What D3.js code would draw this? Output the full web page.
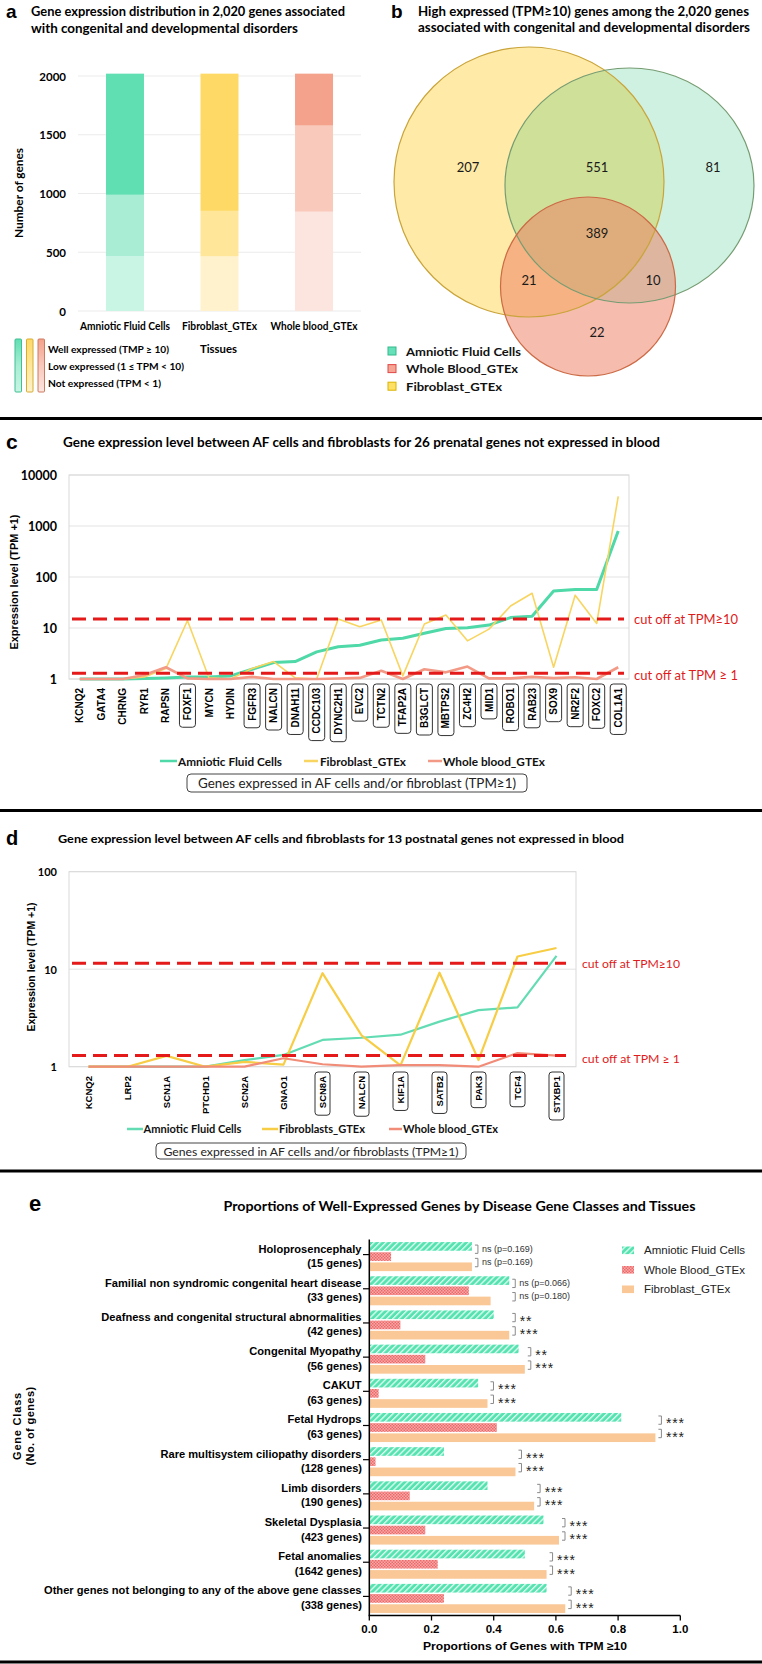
<!DOCTYPE html>
<html><head><meta charset="utf-8">
<script src="https://cdn.jsdelivr.net/npm/d3@7"></script>
<style>html,body{margin:0;padding:0;background:#fff;} svg{display:block;}</style>
</head><body>
<svg id="fig" width="762" height="1664" xmlns="http://www.w3.org/2000/svg"></svg>
<script>
// ================= DATA =================
// Panel a
const titleA = ["Gene expression distribution in 2,020 genes associated", "with congenital and developmental disorders"];
const tissuesA = ["Amniotic Fluid Cells", "Fibroblast_GTEx", "Whole blood_GTEx"];
const notExpressed = [465, 465, 845];
const lowExpressed = [524, 387, 733];
const wellExpressed = [1031, 1168, 442];
const yTicksA = [0, 500, 1000, 1500, 2000];
const legendA = ["Well expressed (TMP \u2265 10)", "Low expressed (1 \u2264 TPM < 10)", "Not expressed (TPM < 1)"];

// Panel b
const titleB = ["High expressed (TPM\u226510)  genes among the 2,020 genes", "associated with congenital and developmental disorders"];
const vennSets = ["Amniotic Fluid Cells", "Whole Blood_GTEx", "Fibroblast_GTEx"];
const vennRegions = ["Fib only", "AF & Fib", "AF only", "AF & Fib & WB", "Fib & WB", "AF & WB", "WB only"];
const vennCounts = [207, 551, 81, 389, 21, 10, 22];

// Panel c
const titleC = "Gene expression level between AF cells and fibroblasts for 26 prenatal genes not expressed in blood";
const genesC = ["KCNQ2","GATA4","CHRNG","RYR1","RAPSN","FOXF1","MYCN","HYDIN","FGFR3","NALCN","DNAH11","CCDC103","DYNC2H1","EVC2","TCTN2","TFAP2A","B3GLCT","MBTPS2","ZC4H2","MID1","ROBO1","RAB23","SOX9","NR2F2","FOXC2","COL1A1"];
const afC  = [1.0,1.0,1.0,1.02,1.05,1.1,1.1,1.15,1.55,2.1,2.2,3.4,4.3,4.6,5.8,6.3,7.9,9.8,10.1,11.4,16,17,53,57,57,800];
const fibC = [1.0,1.0,1.0,1.1,1.6,14,1.05,1.0,1.6,2.2,1.05,1.0,15,10.6,14.3,1.15,12,18,5.6,9.5,27,48,1.7,44,12.3,3800];
const wbC  = [1.0,1.0,1.0,1.2,1.7,1.03,1.0,1.0,1.1,1.0,1.0,1.0,1.02,1.05,1.45,1.0,1.55,1.35,1.75,1.03,1.03,1.1,1.04,1.08,1.0,1.7];
const boxedC = ["FOXF1","FGFR3","NALCN","DNAH11","CCDC103","DYNC2H1","EVC2","TCTN2","TFAP2A","B3GLCT","MBTPS2","ZC4H2","MID1","ROBO1","RAB23","SOX9","NR2F2","FOXC2","COL1A1"];
const yTicksC = [1, 10, 100, 1000, 10000];
const cutoffsC = [15, 1.29];
const cutoffLabels = ["cut off at TPM\u226510", "cut off at TPM \u2265 1"];
const seriesC = ["Amniotic Fluid Cells", "Fibroblast_GTEx", "Whole blood_GTEx"];
const boxTextC = "Genes expressed in AF cells and/or fibroblast (TPM\u22651)";

// Panel d
const titleD = "Gene expression level between AF cells and fibroblasts for 13 postnatal genes not expressed in blood";
const genesD = ["KCNQ2","LRP2","SCN1A","PTCHD1","SCN2A","GNAO1","SCN8A","NALCN","KIF1A","SATB2","PAK3","TCF4","STXBP1"];
const afD  = [1.0,1.0,1.0,1.0,1.17,1.32,1.88,1.98,2.13,2.9,3.8,4.06,13.7];
const fibD = [1.0,1.0,1.29,1.0,1.12,1.05,9.1,2.1,1.03,9.2,1.17,13.5,16.5];
const wbD  = [1.0,1.0,1.0,1.0,1.0,1.22,1.06,1.0,1.04,1.04,1.0,1.38,1.3];
const boxedD = ["SCN8A","NALCN","KIF1A","SATB2","PAK3","TCF4","STXBP1"];
const yTicksD = [1, 10, 100];
const cutoffsD = [11.5, 1.3];
const seriesD = ["Amniotic Fluid Cells", "Fibroblasts_GTEx", "Whole blood_GTEx"];
const boxTextD = "Genes expressed in AF cells and/or fibroblasts (TPM\u22651)";

// Panel e
const titleE = "Proportions of Well-Expressed Genes by Disease Gene Classes and Tissues";
const classesE = ["Holoprosencephaly","Familial non syndromic congenital heart disease","Deafness and congenital structural abnormalities","Congenital Myopathy","CAKUT","Fetal Hydrops","Rare multisystem ciliopathy disorders","Limb disorders","Skeletal Dysplasia","Fetal anomalies","Other genes not belonging to any of the above gene classes"];
const geneCountsE = [15,33,42,56,63,63,128,190,423,1642,338];
const afE  = [0.33,0.45,0.40,0.48,0.35,0.81,0.24,0.38,0.56,0.50,0.57];
const wbE  = [0.07,0.32,0.10,0.18,0.03,0.41,0.02,0.13,0.18,0.22,0.24];
const fibE = [0.33,0.39,0.45,0.50,0.38,0.92,0.47,0.53,0.61,0.57,0.63];
const sigAfWb  = ["ns (p=0.169)","ns (p=0.066)","**","**","***","***","***","***","***","***","***"];
const sigWbFib = ["ns (p=0.169)","ns (p=0.180)","***","***","***","***","***","***","***","***","***"];
const xTicksE = [0, 0.2, 0.4, 0.6, 0.8, 1.0];
const seriesE = ["Amniotic Fluid Cells", "Whole Blood_GTEx", "Fibroblast_GTEx"];

// ================= DRAW =================
const svg = d3.select("#fig");
const CAL = "Lato, 'Open Sans', sans-serif";
const ARI = "'Liberation Sans', Arial, sans-serif";
const defs = svg.append("defs");
svg.append("rect").attr("width", 762).attr("height", 1664).attr("fill", "#fff");

function txt(g, x, y, s, o = {}) {
  const t = g.append("text").attr("x", x).attr("y", y).text(s)
    .attr("font-family", o.ff || CAL).attr("font-size", o.fs || 12)
    .attr("font-weight", o.fw || 400).attr("fill", o.fill || "#000")
    .attr("text-anchor", o.anchor || "start").attr("dominant-baseline", o.db || "central");
  if (o.w) t.attr("textLength", o.w).attr("lengthAdjust", "spacingAndGlyphs");
  if (o.ls) t.attr("letter-spacing", o.ls);
  if (o.rot) t.attr("transform", `rotate(${o.rot},${x},${y})`);
  return t;
}

// separators
svg.selectAll("line.sep").data([418.5, 810.5, 1171, 1662]).join("line").attr("class", "sep")
  .attr("x1", 0).attr("x2", 762).attr("y1", d => d).attr("y2", d => d)
  .attr("stroke", "#000").attr("stroke-width", 3);

// ---------- Panel a ----------
const gA = svg.append("g");
txt(gA, 6, 17.5, "a", {ff: ARI, fs: 19, fw: 700, db: "alphabetic"});
txt(gA, 31, 10.5, titleA[0], {fs: 13.5, fw: 700, w: 314});
txt(gA, 31, 28, titleA[1], {fs: 13.5, fw: 700, w: 267});
const yA = d3.scaleLinear().domain([0, 2000]).range([311, 76]);
const xA = d3.scaleBand().domain(tissuesA).range([78, 361]).paddingInner(0.598).paddingOuter(0.296);
gA.selectAll("line.grid").data(yTicksA).join("line").attr("x1", 78).attr("x2", 361)
  .attr("y1", d => yA(d)).attr("y2", d => yA(d)).attr("stroke", "#EBEBEB");
yTicksA.forEach(t => txt(gA, 66, yA(t), String(t), {fs: 11.5, fw: 700, anchor: "end"}));
const paletteA = [["#C8F5E4", "#A9EDD5", "#60DFB3"], ["#FFF2CC", "#FFE699", "#FFD966"], ["#FCE5DF", "#F9C9BC", "#F4A28B"]];
const strokeLegA = ["#3FBF92", "#D6AC33", "#CC7A5E"];
const stackA = d3.stack().keys(["not", "low", "well"])(tissuesA.map((t, i) => ({t, not: notExpressed[i], low: lowExpressed[i], well: wellExpressed[i]})));
stackA.forEach((layer, j) => {
  gA.selectAll(null).data(layer).join("rect")
    .attr("x", d => xA(d.data.t)).attr("width", xA.bandwidth())
    .attr("y", d => yA(d[1])).attr("height", d => yA(d[0]) - yA(d[1]))
    .attr("fill", (d, i) => paletteA[i][j]);
});
const labWA = [90, 75, 87];
tissuesA.forEach((t, i) => txt(gA, xA(t) + xA.bandwidth() / 2, 326, t, {fs: 10.5, fw: 700, anchor: "middle", w: labWA[i]}));
txt(gA, 19, 193, "Number of genes", {fs: 10.5, fw: 700, anchor: "middle", rot: -90, w: 90});
txt(gA, 218.5, 348, "Tissues", {fs: 11.5, fw: 700, anchor: "middle", w: 37});
// legend gradient bars
[15, 26.5, 38].forEach((x, i) => {
  const gr = defs.append("linearGradient").attr("id", "gA" + i).attr("x1", 0).attr("y1", 0).attr("x2", 0).attr("y2", 1);
  gr.append("stop").attr("offset", "0%").attr("stop-color", paletteA[i][2]);
  gr.append("stop").attr("offset", "50%").attr("stop-color", paletteA[i][1]);
  gr.append("stop").attr("offset", "100%").attr("stop-color", paletteA[i][0]);
  gA.append("rect").attr("x", x).attr("y", 339).attr("width", 6.5).attr("height", 53).attr("rx", 1)
    .attr("fill", `url(#gA${i})`).attr("stroke", strokeLegA[i]).attr("stroke-width", 1);
});
const legWA = [121, 136, 113];
legendA.forEach((s, i) => txt(gA, 48, 349 + i * 17, s, {fs: 9.5, fw: 700, w: legWA[i]}));

// ---------- Panel b ----------
const gB = svg.append("g");
txt(gB, 391, 17.5, "b", {ff: ARI, fs: 19, fw: 700, db: "alphabetic"});
txt(gB, 418, 10.5, titleB[0], {fs: 13.5, fw: 700, w: 331});
txt(gB, 418, 27, titleB[1], {fs: 13.5, fw: 700, w: 332});
const vennShapes = [
  {set: "Fibroblast_GTEx", cx: 529, cy: 182, rx: 135, ry: 135, fill: "#FFD54F", op: 0.5, stroke: "#C9A43A"},
  {set: "Amniotic Fluid Cells", cx: 629.5, cy: 185.5, rx: 124.5, ry: 117.5, fill: "#00B75E", op: 0.19, stroke: "#769C72"},
  {set: "Whole Blood_GTEx", cx: 588, cy: 286.5, rx: 87.5, ry: 89.5, fill: "#EE7A5E", op: 0.5, stroke: "#CC6A45"}
];
gB.selectAll("ellipse.f").data(vennShapes).join("ellipse").attr("class", "f")
  .attr("cx", d => d.cx).attr("cy", d => d.cy).attr("rx", d => d.rx).attr("ry", d => d.ry)
  .attr("fill", d => d.fill).attr("fill-opacity", d => d.op);
gB.selectAll("ellipse.s").data(vennShapes).join("ellipse").attr("class", "s")
  .attr("cx", d => d.cx).attr("cy", d => d.cy).attr("rx", d => d.rx).attr("ry", d => d.ry)
  .attr("fill", "none").attr("stroke", d => d.stroke).attr("stroke-width", 1.2);
const vennPos = [[468, 167], [597, 167], [713, 167], [597, 233], [529, 280], [653, 280], [597, 332]];
vennCounts.forEach((c, i) => txt(gB, vennPos[i][0], vennPos[i][1], String(c), {fs: 13, anchor: "middle", fill: "#1a1a1a"}));
const vennLegFill = ["#66E0B8", "#F4A593", "#FFE066"];
const vennLegStroke = ["#35B98C", "#E04848", "#D9B400"];
const vennLegW = [115, 112, 96];
vennSets.forEach((s, i) => {
  const y = 351 + i * 17.6;
  gB.append("rect").attr("x", 388).attr("y", y - 4).attr("width", 8).attr("height", 8)
    .attr("fill", vennLegFill[i]).attr("stroke", vennLegStroke[i]).attr("stroke-width", 1);
  txt(gB, 406, y, s, {fs: 12, fw: 700, w: vennLegW[i], fill: "#111"});
});

// ---------- line-panel helper ----------
function linePanel(cfg) {
  const g = svg.append("g");
  txt(g, cfg.letterX, cfg.letterY, cfg.letter, {ff: ARI, fs: cfg.letterFs, fw: 700});
  txt(g, cfg.titleX, cfg.titleY, cfg.title, {fs: cfg.titleFs, fw: 700, w: cfg.titleW});
  const x = d3.scaleBand().domain(cfg.genes).range([cfg.x0, cfg.x1]);
  const y = d3.scaleLog().domain(cfg.domain).range([cfg.yb, cfg.yt]);
  const cx = gname => x(gname) + x.bandwidth() / 2;
  g.selectAll("line.grid").data(cfg.ticks).join("line").attr("x1", cfg.x0).attr("x2", cfg.x1)
    .attr("y1", d => y(d)).attr("y2", d => y(d)).attr("stroke", "#E3E3E3");
  g.append("rect").attr("x", cfg.x0).attr("y", cfg.yt).attr("width", cfg.x1 - cfg.x0).attr("height", cfg.yb - cfg.yt)
    .attr("fill", "none").attr("stroke", "#D9D9D9");
  cfg.ticks.forEach(t => txt(g, 57, y(t), String(t), {fs: cfg.tickFs, fw: 700, anchor: "end"}));
  txt(g, cfg.ytX, cfg.ytY, "Expression level (TPM +1)", {ff: ARI, fs: 10, fw: 700, anchor: "middle", rot: -90, w: cfg.ytW});
  const line = d3.line().x(d => cx(d.g)).y(d => y(d.v));
  cfg.series.forEach(s => {
    g.append("path").datum(cfg.genes.map((gn, i) => ({g: gn, v: s.vals[i]})))
      .attr("d", line).attr("fill", "none").attr("stroke", s.color).attr("stroke-width", s.w)
      .attr("stroke-linejoin", "round");
  });
  cfg.cutoffs.forEach((c, i) => {
    g.append("line").attr("x1", cfg.x0 + 3).attr("x2", cfg.cutX2).attr("y1", y(c)).attr("y2", y(c))
      .attr("stroke", "#E41A1A").attr("stroke-width", 3).attr("stroke-dasharray", "14,7");
    txt(g, cfg.cutLabX, y(c) + (i === 1 ? 2.5 : 0), cutoffLabels[i], {fs: cfg.cutFs, fill: "#E01B1B", w: cfg.cutW});
  });
  cfg.genes.forEach(gn => {
    const t = txt(g, cx(gn), cfg.labY, gn, {ff: ARI, fs: cfg.labFs, fw: 700, anchor: "end", rot: -90});
    if (cfg.boxed.includes(gn)) {
      const len = t.node().getComputedTextLength();
      g.insert("rect", "text").attr("x", cx(gn) - cfg.boxW / 2).attr("y", cfg.labY - 4)
        .attr("width", cfg.boxW).attr("height", len + 11).attr("rx", 3)
        .attr("fill", "none").attr("stroke", "#333").attr("stroke-width", 1);
    }
  });
  cfg.legend.forEach((L, i) => {
    g.append("line").attr("x1", L.x1).attr("x2", L.x2).attr("y1", cfg.legY).attr("y2", cfg.legY)
      .attr("stroke", cfg.series[i].color).attr("stroke-width", 2.5);
    txt(g, L.tx, cfg.legY, L.name, {fs: cfg.legFs, fw: 700, w: L.w, fill: "#111"});
  });
  g.append("rect").attr("x", cfg.box[0]).attr("y", cfg.box[1]).attr("width", cfg.box[2] - cfg.box[0])
    .attr("height", cfg.box[3] - cfg.box[1]).attr("rx", 4).attr("fill", "none").attr("stroke", "#444");
  txt(g, (cfg.box[0] + cfg.box[2]) / 2, (cfg.box[1] + cfg.box[3]) / 2 + 0.5, cfg.boxText,
    {fs: cfg.boxFs, anchor: "middle", w: cfg.boxTextW, fill: "#222"});
}

linePanel({
  letter: "c", letterX: 6, letterY: 441, letterFs: 21,
  title: titleC, titleX: 63, titleY: 442, titleFs: 12.5, titleW: 597,
  genes: genesC, x0: 69, x1: 629, yt: 475, yb: 679, domain: [1, 10000], ticks: yTicksC, tickFs: 12.5,
  ytX: 14.5, ytY: 582, ytW: 135,
  series: [
    {vals: afC, color: "#4FD8A8", w: 3},
    {vals: fibC, color: "#F8D560", w: 1.6},
    {vals: wbC, color: "#F39A86", w: 2.6}
  ],
  cutoffs: cutoffsC, cutX2: 624, cutLabX: 634, cutFs: 12.5, cutW: 104,
  labY: 688, labFs: 10, boxed: boxedC, boxW: 16,
  legY: 761, legFs: 11.5,
  legend: [
    {name: seriesC[0], x1: 160, x2: 177, tx: 178, w: 104},
    {name: seriesC[1], x1: 304, x2: 318, tx: 320, w: 86},
    {name: seriesC[2], x1: 428, x2: 442, tx: 443, w: 102}
  ],
  box: [187, 774, 527, 792], boxText: boxTextC, boxFs: 12.5, boxTextW: 318
});

linePanel({
  letter: "d", letterX: 6, letterY: 838, letterFs: 20,
  title: titleD, titleX: 58, titleY: 838, titleFs: 11.5, titleW: 566,
  genes: genesD, x0: 69, x1: 576, yt: 871.7, yb: 1066.7, domain: [1, 100], ticks: yTicksD, tickFs: 11,
  ytX: 31, ytY: 967, ytW: 129,
  series: [
    {vals: afD, color: "#63DCB3", w: 2.2},
    {vals: fibD, color: "#F7CD45", w: 2.2},
    {vals: wbD, color: "#F18C78", w: 2.2}
  ],
  cutoffs: cutoffsD, cutX2: 566, cutLabX: 582, cutFs: 12, cutW: 98,
  labY: 1076, labFs: 9.5, boxed: boxedD, boxW: 15,
  legY: 1129, legFs: 10.5,
  legend: [
    {name: seriesD[0], x1: 127, x2: 143, tx: 143.5, w: 98},
    {name: seriesD[1], x1: 262, x2: 278, tx: 279, w: 86},
    {name: seriesD[2], x1: 389, x2: 402, tx: 403, w: 95}
  ],
  box: [156, 1143, 466, 1159], boxText: boxTextD, boxFs: 11.5, boxTextW: 295
});

// ---------- Panel e ----------
const gE = svg.append("g");
txt(gE, 29, 1203, "e", {ff: ARI, fs: 22, fw: 700});
txt(gE, 223.5, 1205, titleE, {fs: 14, fw: 700, w: 472});
// patterns
const pAF = defs.append("pattern").attr("id", "hatchAF").attr("patternUnits", "userSpaceOnUse")
  .attr("width", 4.2).attr("height", 4.2).attr("patternTransform", "rotate(45)");
pAF.append("rect").attr("width", 4.2).attr("height", 4.2).attr("fill", "#57E2B2");
pAF.append("rect").attr("width", 1.3).attr("height", 4.2).attr("fill", "#E2FFF3");
const pWB = defs.append("pattern").attr("id", "checkWB").attr("patternUnits", "userSpaceOnUse")
  .attr("width", 3).attr("height", 3);
pWB.append("rect").attr("width", 3).attr("height", 3).attr("fill", "#F8AAAA");
pWB.append("rect").attr("width", 1.5).attr("height", 1.5).attr("fill", "#EE6868");
pWB.append("rect").attr("x", 1.5).attr("y", 1.5).attr("width", 1.5).attr("height", 1.5).attr("fill", "#EE6868");
const fillsE = ["url(#hatchAF)", "url(#checkWB)", "#F9C896"];

const xE = d3.scaleLinear().domain([0, 1]).range([369.3, 680.3]);
const yE = d3.scaleBand().domain(classesE).range([1239.5, 1615.5]).paddingInner(0.15).paddingOuter(0.075);
const ySub = d3.scaleBand().domain(seriesE).range([0, yE.bandwidth()]).paddingInner(0.15);
const valsE = [afE, wbE, fibE];
classesE.forEach((c, i) => {
  const T = yE(c);
  seriesE.forEach((s, j) => {
    gE.append("rect").attr("x", xE(0)).attr("y", T + ySub(s)).attr("width", xE(valsE[j][i]) - xE(0))
      .attr("height", ySub.bandwidth()).attr("fill", fillsE[j]);
  });
  // labels
  txt(gE, 361.5, T + 6.5, c, {ff: ARI, fs: 11.1, fw: 700, anchor: "end"});
  txt(gE, 362, T + 21, `(${geneCountsE[i]} genes)`, {ff: ARI, fs: 11.1, fw: 700, anchor: "end"});
  gE.append("line").attr("x1", 363).attr("x2", 369.3).attr("y1", T + yE.bandwidth() / 2 - 2).attr("y2", T + yE.bandwidth() / 2 - 2)
    .attr("stroke", "#000").attr("stroke-width", 1.2);
  // significance
  const bx = xE(Math.max(afE[i], wbE[i], fibE[i])) + 6;
  [[T + 3, T + 11.3, sigAfWb[i]], [T + 16.3, T + 24.7, sigWbFib[i]]].forEach(([a, b, s]) => {
    gE.append("path").attr("d", `M${bx - 3},${a}H${bx}V${b}H${bx - 3}`).attr("fill", "none")
      .attr("stroke", "#8a8a8a").attr("stroke-width", 1);
    const mid = (a + b) / 2;
    if (s.startsWith("ns")) txt(gE, bx + 4, mid - 0.5, s, {ff: ARI, fs: 9, fill: "#333"});
    else txt(gE, bx + 4.5, mid + 3.3, s, {ff: ARI, fs: 14, fill: "#222", ls: 0.8});
  });
});
// axes
gE.append("line").attr("x1", xE(0)).attr("x2", xE(0)).attr("y1", 1239.5).attr("y2", 1615.5).attr("stroke", "#000").attr("stroke-width", 1.5);
gE.append("line").attr("x1", xE(0) - 0.75).attr("x2", xE(1)).attr("y1", 1615.5).attr("y2", 1615.5).attr("stroke", "#000").attr("stroke-width", 1.5);
xTicksE.forEach(t => {
  gE.append("line").attr("x1", xE(t)).attr("x2", xE(t)).attr("y1", 1615.5).attr("y2", 1620.5).attr("stroke", "#000").attr("stroke-width", 1.3);
  txt(gE, xE(t), 1628.5, d3.format(".1f")(t), {ff: ARI, fs: 11.5, fw: 700, anchor: "middle"});
});
txt(gE, 525, 1646, "Proportions of Genes with TPM \u226510", {ff: ARI, fs: 11, fw: 700, anchor: "middle", w: 204});
txt(gE, 17, 1426, "Gene Class", {ff: ARI, fs: 11, fw: 700, anchor: "middle", rot: -90, ls: 0.8});
txt(gE, 30, 1426, "(No. of genes)", {ff: ARI, fs: 11, fw: 700, anchor: "middle", rot: -90, ls: 0.4});
// legend
seriesE.forEach((s, j) => {
  const y = 1250.3 + j * 19.5;
  gE.append("rect").attr("x", 622).attr("y", y - 3.8).attr("width", 12).attr("height", 7.6).attr("fill", fillsE[j]);
  txt(gE, 644, y, s, {ff: ARI, fs: 11.5, fill: "#222"});
});
</script></body></html>
